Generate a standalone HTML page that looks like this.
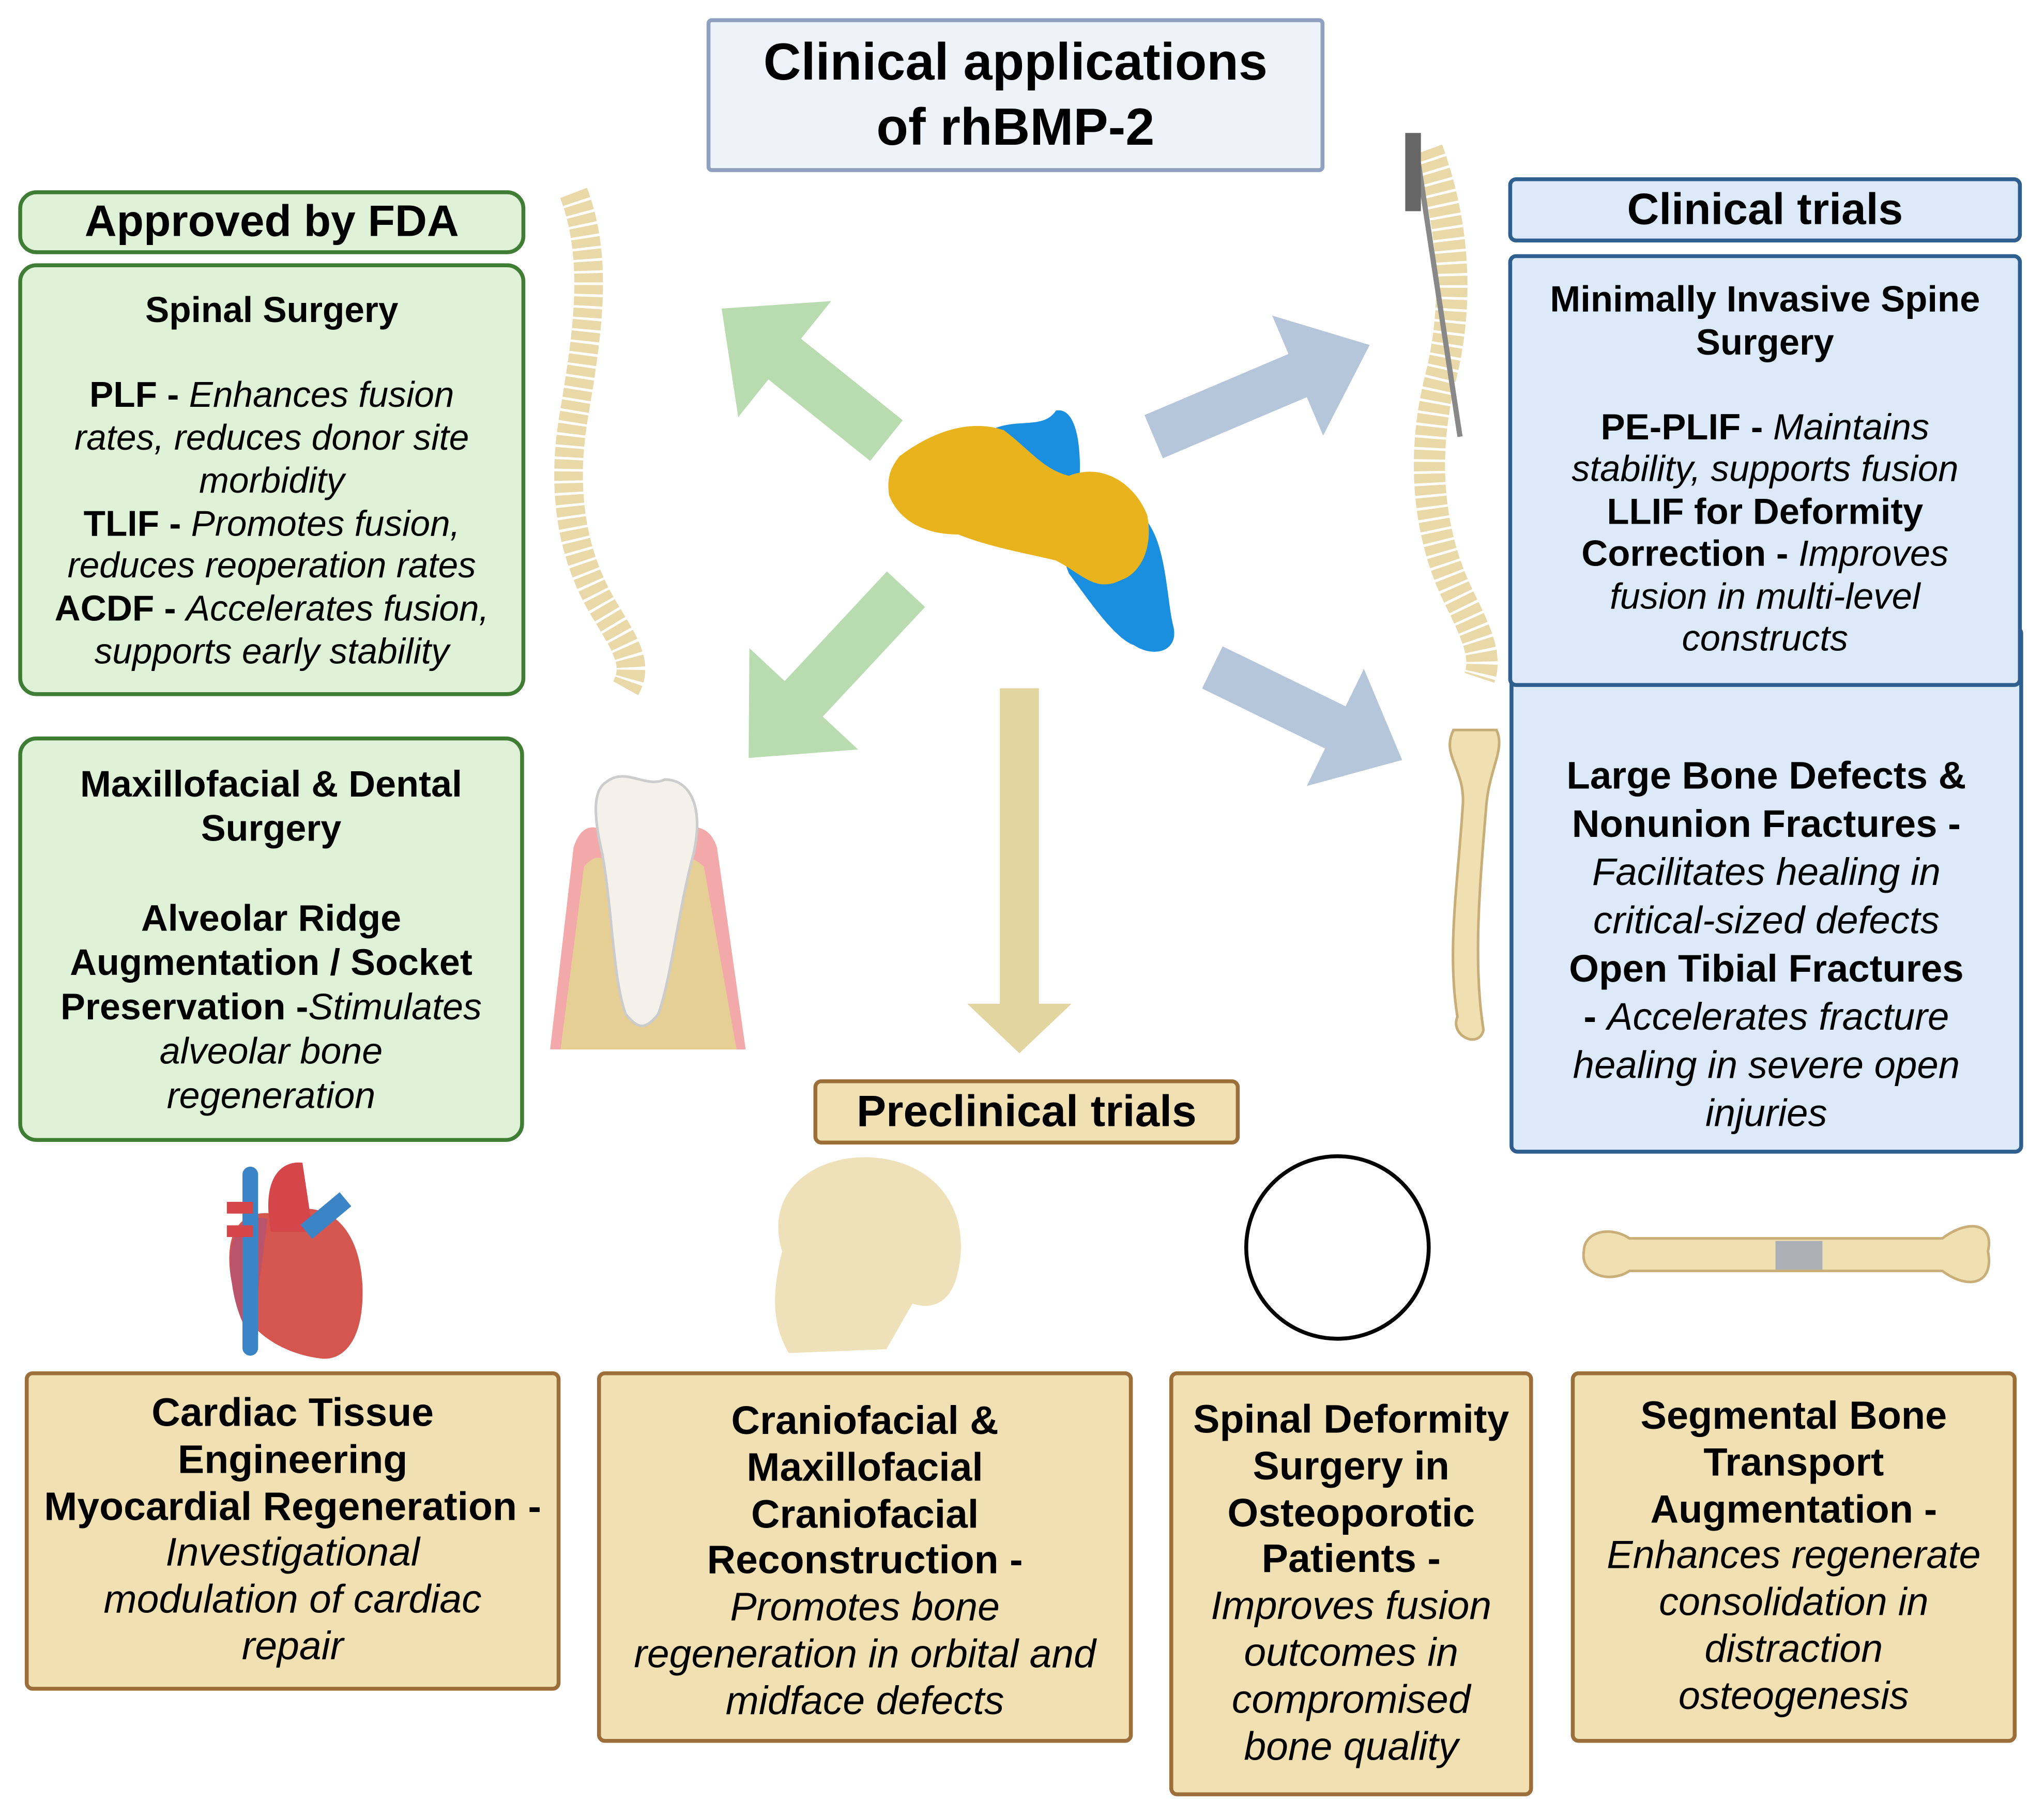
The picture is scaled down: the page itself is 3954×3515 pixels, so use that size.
<!DOCTYPE html>
<html><head><meta charset="utf-8"><style>
html,body{margin:0;padding:0;background:#fff;}
body{width:3954px;height:3515px;overflow:hidden;position:relative;}
#w{position:absolute;left:0;top:0;width:1568px;height:1394px;transform:scale(2.5217);transform-origin:0 0;font-family:"Liberation Sans",sans-serif;color:#000;}
.b{position:absolute;box-sizing:border-box;text-align:center;}
.c{display:flex;justify-content:center;align-items:center;}
.g{background:#dff2d8;border:3px solid #3f7d35;border-radius:14px;}
.bl{background:#dce9f8;border:3px solid #2e5f8f;border-radius:6px;}
.t{background:#f1e0b2;border:3px solid #9b6e3a;border-radius:6px;}
.h{font-weight:bold;font-size:34px;}
.L{white-space:nowrap;letter-spacing:0;}
b{font-weight:bold;} i{font-style:italic;}
svg{position:absolute;left:0;top:0;}
</style></head><body><div id="w">
<svg width="1568" height="1394" viewBox="0 0 1568 1394">
<g fill="#b9dbb0">
<polygon transform="translate(680,338) rotate(218.7)" points="0,-20 100,-20 100,-57 162,0 100,57 100,20 0,20"/>
<polygon transform="translate(695,452) rotate(133)" points="0,-20 115,-20 115,-57 177,0 115,57 115,20 0,20"/>
</g>
<g fill="#b5c5da">
<polygon transform="translate(885,335) rotate(-23)" points="0,-18 120,-18 120,-50 180,0 120,50 120,18 0,18"/>
<polygon transform="translate(930,512) rotate(26)" points="0,-18 105,-18 105,-50 162,0 105,50 105,18 0,18"/>
</g>
<polygon fill="#e2d5a0" points="767,528 797,528 797,770 822,770 782,808 742,770 767,770"/>
<path fill="#1a8fe0" d="M760,330 C780,320 800,330 810,315 C825,312 830,340 828,370 L880,400 C895,420 895,460 900,480 C905,500 885,505 870,495 C855,490 835,460 820,440 L790,360 Z"/>
<path fill="#e8b31d" d="M690,350 C710,335 740,320 770,330 C790,345 800,360 820,365 C845,355 870,370 880,395 C885,420 875,440 860,445 C840,455 830,440 810,430 C790,425 760,420 735,410 C710,410 690,400 682,380 C680,365 684,358 690,350 Z"/>
<path d="M440,148 C460,200 450,260 440,320 C430,380 440,430 465,470 C480,495 490,510 480,528" stroke="#e9d8a8" stroke-width="22" fill="none" stroke-dasharray="7 2"/>
<path d="M1095,115 C1115,170 1120,230 1105,290 C1090,350 1095,410 1120,460 C1135,490 1140,505 1135,520" stroke="#e9d8a8" stroke-width="24" fill="none" stroke-dasharray="7 2"/>
<line x1="1085" y1="105" x2="1120" y2="335" stroke="#888" stroke-width="4"/>
<rect x="1078" y="102" width="12" height="60" fill="#666"/>
<path d="M422,805 L440,650 C450,620 470,640 490,660 C510,640 540,620 550,650 L572,805 Z" fill="#f3a9a9"/>
<path d="M430,805 L448,665 C460,650 470,660 490,690 C510,660 525,650 540,665 L565,805 Z" fill="#e6cf95"/>
<path d="M465,600 C480,588 495,605 510,598 C530,598 540,620 532,655 C520,700 515,750 505,778 C495,790 490,790 480,778 C470,750 470,700 462,655 C455,625 455,606 465,600 Z" fill="#f4f0ea" stroke="#ccc" stroke-width="2"/>
<path d="M1115,560 C1105,580 1125,590 1122,620 C1118,680 1110,730 1118,780 C1112,795 1135,805 1138,790 C1130,740 1135,680 1140,620 C1142,590 1155,575 1148,560 Z" fill="#f0dfb0" stroke="#c7ad77" stroke-width="2"/>
<path d="M178,985 C170,945 185,925 215,932 C245,918 275,935 278,985 C280,1030 262,1045 245,1042 C215,1038 185,1020 178,985 Z" fill="#d5564f"/>
<path d="M178,985 C172,950 185,930 205,935 C200,980 195,1010 192,1025 C185,1015 180,1000 178,985 Z" fill="#b9546c"/>
<rect x="186" y="895" width="12" height="145" rx="6" fill="#3b85c6"/>
<path d="M208,945 C200,905 215,890 232,892 L240,945 Z" fill="#d5464a"/>
<path d="M235,945 L265,920" stroke="#3b85c6" stroke-width="14"/>
<rect x="174" y="922" width="20" height="9" fill="#d5464a"/>
<rect x="174" y="940" width="20" height="9" fill="#d5464a"/>
<path d="M600,960 C585,910 630,885 670,888 C720,892 745,930 735,975 C730,1000 715,1005 700,1000 L680,1035 L605,1038 C595,1020 590,1000 600,960 Z" fill="#eee0b8"/>
<circle cx="1026" cy="957" r="70" fill="none" stroke="#000" stroke-width="3"/>
<path d="M1215,960 C1215,945 1235,940 1250,950 L1490,950 C1510,935 1530,938 1525,960 C1530,985 1510,990 1490,975 L1250,975 C1235,985 1212,978 1215,960 Z" fill="#f0dfb0" stroke="#c9ae7a" stroke-width="2"/>
<rect x="1362" y="952" width="36" height="22" fill="#aab0b5"/>
</svg>

<div class="b c" style="left:542px;top:14px;width:474px;height:118px;background:#eef3fa;border:3px solid #8fa0c0;border-radius:4px;font-weight:bold;font-size:40px;line-height:50px;">Clinical applications<br>of rhBMP-2</div>

<div class="b g h c" style="left:14px;top:146px;width:389px;height:49px;">Approved by FDA</div>
<div class="b g L" style="left:14px;top:202px;width:389px;height:332px;font-size:27.5px;line-height:32.7px;padding-top:17px;">
<b>Spinal Surgery</b><br><br>
<b>PLF - </b><i>Enhances fusion</i><br><i>rates, reduces donor site</i><br><i>morbidity</i><br>
<b>TLIF - </b><i>Promotes fusion,</i><br><i>reduces reoperation rates</i><br>
<b>ACDF - </b><i>Accelerates fusion,</i><br><i>supports early stability</i></div>
<div class="b g L" style="left:14px;top:565px;width:388px;height:311px;font-size:28.5px;line-height:34.2px;padding-top:17px;">
<b>Maxillofacial &amp; Dental</b><br><b>Surgery</b><br><br>
<b>Alveolar Ridge</b><br><b>Augmentation / Socket</b><br><b>Preservation -</b><i>Stimulates</i><br><i>alveolar bone</i><br><i>regeneration</i></div>

<div class="b bl L" style="left:1158px;top:480px;width:394px;height:405px;font-size:29.5px;line-height:37px;padding-top:94px;">
<b>Large Bone Defects &amp;</b><br><b>Nonunion Fractures -</b><br><i>Facilitates healing in</i><br><i>critical-sized defects</i><br>
<b>Open Tibial Fractures</b><br><span style="line-height:34px"><b>- </b><i>Accelerates fracture</i><br><i>healing in severe open</i><br><i>injuries</i></span></div>
<div class="b bl h c" style="left:1157px;top:136px;width:394px;height:50px;">Clinical trials</div>
<div class="b bl L" style="left:1157px;top:195px;width:394px;height:332px;font-size:28px;line-height:32.5px;padding-top:16px;">
<b>Minimally Invasive Spine</b><br><b>Surgery</b><br><br>
<b>PE-PLIF - </b><i>Maintains</i><br><i>stability, supports fusion</i><br>
<b>LLIF for Deformity</b><br><b>Correction - </b><i>Improves</i><br><i>fusion in multi-level</i><br><i>constructs</i></div>

<div class="b t h c" style="left:624px;top:828px;width:327px;height:50px;">Preclinical trials</div>

<div class="b t L" style="left:19px;top:1052px;width:411px;height:245px;font-size:30.5px;line-height:35.8px;padding-top:12px;">
<b>Cardiac Tissue</b><br><b>Engineering</b><br><b>Myocardial Regeneration -</b><br><i>Investigational</i><br><i>modulation of cardiac</i><br><i>repair</i></div>
<div class="b t L" style="left:458px;top:1052px;width:411px;height:285px;font-size:30.5px;line-height:35.8px;padding-top:18px;">
<b>Craniofacial &amp;</b><br><b>Maxillofacial</b><br><b>Craniofacial</b><br><b>Reconstruction -</b><br><i>Promotes bone</i><br><i>regeneration in orbital and</i><br><i>midface defects</i></div>
<div class="b t L" style="left:897px;top:1052px;width:279px;height:326px;font-size:30.5px;line-height:35.8px;padding-top:17px;">
<b>Spinal Deformity</b><br><b>Surgery in</b><br><b>Osteoporotic</b><br><b>Patients -</b><br><i>Improves fusion</i><br><i>outcomes in</i><br><i>compromised</i><br><i>bone quality</i></div>
<div class="b t L" style="left:1205px;top:1052px;width:342px;height:285px;font-size:30px;line-height:35.8px;padding-top:14px;">
<b>Segmental Bone</b><br><b>Transport</b><br><b>Augmentation - </b><br><i>Enhances regenerate</i><br><i>consolidation in</i><br><i>distraction</i><br><i>osteogenesis</i></div>
</div></body></html>
